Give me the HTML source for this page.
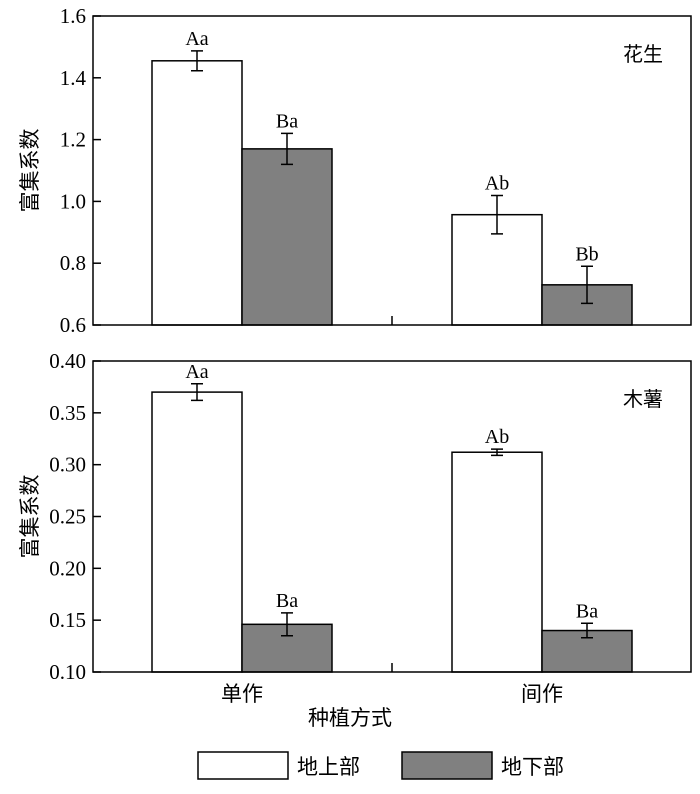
<!DOCTYPE html>
<html><head><meta charset="utf-8"><style>
body{margin:0;background:#fff;}
svg text{font-family:"Liberation Serif","Noto Serif CJK SC",serif;fill:#000;}
.cjk{font-family:"Liberation Serif","Noto Sans CJK SC",sans-serif !important;}
</style></head><body>
<svg id="chart" width="700" height="789" viewBox="0 0 700 789" xmlns="http://www.w3.org/2000/svg"></svg>
<script>
const categories=["单作","间作"];
const series=["地上部","地下部"];
const topValues=[[1.455,1.17],[0.957,0.73]];
const topErrors=[[0.032,0.05],[0.062,0.06]];
const topLabels=[["Aa","Ba"],["Ab","Bb"]];
const topTicks=[0.6,0.8,1.0,1.2,1.4,1.6];
const topTickLabels=["0.6","0.8","1.0","1.2","1.4","1.6"];
const botValues=[[0.370,0.146],[0.312,0.140]];
const botErrors=[[0.008,0.011],[0.003,0.007]];
const botLabels=[["Aa","Ba"],["Ab","Ba"]];
const botTicks=[0.10,0.15,0.20,0.25,0.30,0.35,0.40];
const botTickLabels=["0.10","0.15","0.20","0.25","0.30","0.35","0.40"];
const colors=["#ffffff","#808080"];
const svg=document.getElementById('chart');
const NS="http://www.w3.org/2000/svg";
function mk(tag,attrs,parent){const e=document.createElementNS(NS,tag);for(const k in attrs)e.setAttribute(k,attrs[k]);(parent||svg).appendChild(e);return e;}
const L=93,R=691;
function xBar(ci,si){return 152+ci*300+si*90;}
function panel(name,top,bottom,ymin,ymax,vals,errs,labs,ticks,tickLabels,title){
  const g=mk('g',{});
  
  
  const y=v=>bottom-(v-ymin)/(ymax-ymin)*(bottom-top);
  vals.forEach((row,ci)=>row.forEach((v,si)=>{
    const x=xBar(ci,si);
    const r=mk('rect',{x:x,y:y(v),width:90,height:bottom-y(v),fill:colors[si],stroke:'#000','stroke-width':1.5},g);
    
    
    const cx=x+45,e=errs[ci][si];
    const eb=mk('path',{d:`M${cx} ${y(v+e)}V${y(v-e)}M${cx-6} ${y(v+e)}H${cx+6}M${cx-6} ${y(v-e)}H${cx+6}`,stroke:'#000','stroke-width':1.5,fill:'none'},g);
    
    
    const t=mk('text',{x:cx,y:y(v+e)-6,'text-anchor':'middle','font-size':20},g);
    t.textContent=labs[ci][si];
    
    
  }));
  const fr=mk('rect',{x:L,y:top,width:R-L,height:bottom-top,fill:'none',stroke:'#000','stroke-width':1.5},g);
  
  
  ticks.forEach((tv,i)=>{
    mk('line',{x1:L,x2:L+8,y1:y(tv),y2:y(tv),stroke:'#000','stroke-width':1.5},g);
    const t=mk('text',{x:L-7,y:y(tv)+7,'text-anchor':'end','font-size':21},g);
    t.textContent=tickLabels[i];
    
    
  });
  mk('line',{x1:392,x2:392,y1:bottom,y2:bottom-9,stroke:'#000','stroke-width':1.5},g);
  const tt=mk('text',{x:663,y:top+45,'text-anchor':'end','font-size':20,'class':'cjk'},g);
  tt.textContent=title;
  
  
  const yt=mk('text',{transform:`translate(37,${(top+bottom)/2}) rotate(-90)`,'text-anchor':'middle','font-size':21,'class':'cjk'},g);
  yt.textContent='富集系数';
  
  
}
panel('peanut-panel',16,325,0.6,1.6,topValues,topErrors,topLabels,topTicks,topTickLabels,'花生');
panel('cassava-panel',361,672,0.10,0.40,botValues,botErrors,botLabels,botTicks,botTickLabels,'木薯');
categories.forEach((c,ci)=>{
  const t=mk('text',{x:xBar(ci,1),y:701,'text-anchor':'middle','font-size':21,'class':'cjk'});
  t.textContent=c;
  
  
});
const xt=mk('text',{x:350,y:725,'text-anchor':'middle','font-size':21,'class':'cjk'});
xt.textContent='种植方式';


series.forEach((s,si)=>{
  const x=198+si*204;
  const r=mk('rect',{x:x,y:752,width:90,height:27,fill:colors[si],stroke:'#000','stroke-width':1.5});
  
  
  const t=mk('text',{x:x+99,y:774,'font-size':21,'class':'cjk'});
  t.textContent=s;
  
  
});
</script>
</body></html>
